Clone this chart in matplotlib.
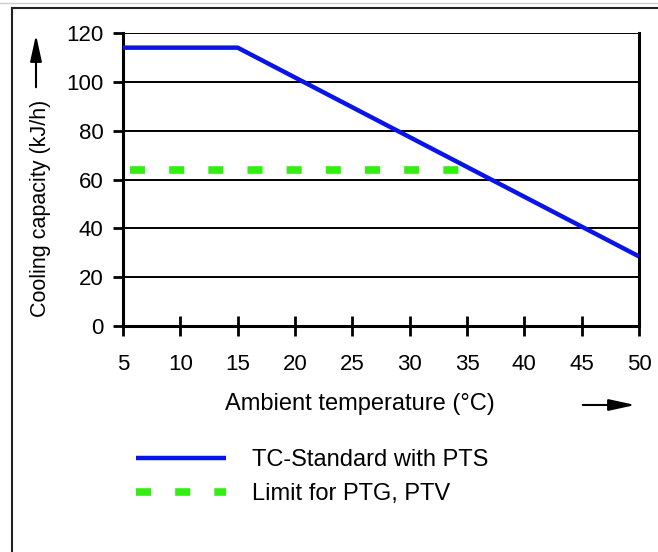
import matplotlib.pyplot as plt
from matplotlib.lines import Line2D

plt.rcParams['font.family'] = ['Liberation Sans', 'DejaVu Sans']
plt.rcParams['lines.scale_dashes'] = False

# data
temp_std = [5, 15, 50]
cap_std = [114, 114, 28.5]
temp_lim = [5.6, 34.3]
cap_lim = [64, 64]
xticks = [5, 10, 15, 20, 25, 30, 35, 40, 45, 50]
yticks = [0, 20, 40, 60, 80, 100, 120]

W, H = 658, 552
fig = plt.figure(figsize=(W / 100, H / 100), dpi=100)
ax = fig.add_axes([123 / W, 1 - 326 / H, (639 - 123) / W, (326 - 33) / H])

for y in yticks[1:]:
    ax.axhline(y, color='black', lw=1.4, zorder=1)

ax.plot(temp_std, cap_std, color='#0a14e6', lw=3.2, solid_capstyle='butt',
        label='TC-Standard with PTS', zorder=3)
ax.plot(temp_lim, cap_lim, color='#33ee11', lw=5.5, linestyle=(0, (10.8, 17.4)),
        dash_capstyle='butt', label='Limit for PTG, PTV', zorder=2)

ax.set_xlim(5, 50)
ax.set_ylim(0, 120)
ax.set_xticks(xticks)
ax.set_yticks(yticks)
ax.tick_params(axis='x', direction='inout', length=14, width=2, pad=13, labelsize=16)
ax.tick_params(axis='y', direction='out', length=7, width=2, pad=7, labelsize=16)
ax.spines['top'].set_visible(False)
for s in ['left', 'bottom', 'right']:
    ax.spines[s].set_linewidth(2.2)
ax.spines['bottom'].set_zorder(4)

# axis titles with arrows (figure pixel coords)
fig.text(360 / W, 1 - 404 / H, 'Ambient temperature (°C)', ha='center', va='center', fontsize=17)
fig.text(41 / W, 1 - 208 / H, 'Cooling capacity (kJ/h)', ha='center', va='center',
         rotation=90, fontsize=15.5)
ax.annotate('', xy=(638 / W, 1 - 405 / H), xytext=(580 / W, 1 - 405 / H),
            xycoords='figure fraction', textcoords='figure fraction',
            arrowprops=dict(arrowstyle='-|>,head_length=1.6,head_width=0.35', color='black', lw=1.5))
ax.annotate('', xy=(36 / W, 1 - 32 / H), xytext=(36 / W, 1 - 90 / H),
            xycoords='figure fraction', textcoords='figure fraction',
            arrowprops=dict(arrowstyle='-|>,head_length=1.6,head_width=0.35', color='black', lw=1.5))

fig.legend(loc='upper left', bbox_to_anchor=(136 / W, 1 - 449 / H), frameon=False,
           borderaxespad=0, borderpad=0, fontsize=17, handlelength=3.8,
           handletextpad=1.1, labelspacing=0.5)

# screenshot frame
fig.add_artist(Line2D([0, 1], [1 - 3 / H, 1 - 3 / H], color='#cccccc', lw=1))
fig.add_artist(Line2D([12 / W, 1], [1 - 8 / H, 1 - 8 / H], color='#222222', lw=1.5))
fig.add_artist(Line2D([12 / W, 12 / W], [0, 1 - 8 / H], color='#222222', lw=1.5))

fig.savefig('out.png', dpi=100)
